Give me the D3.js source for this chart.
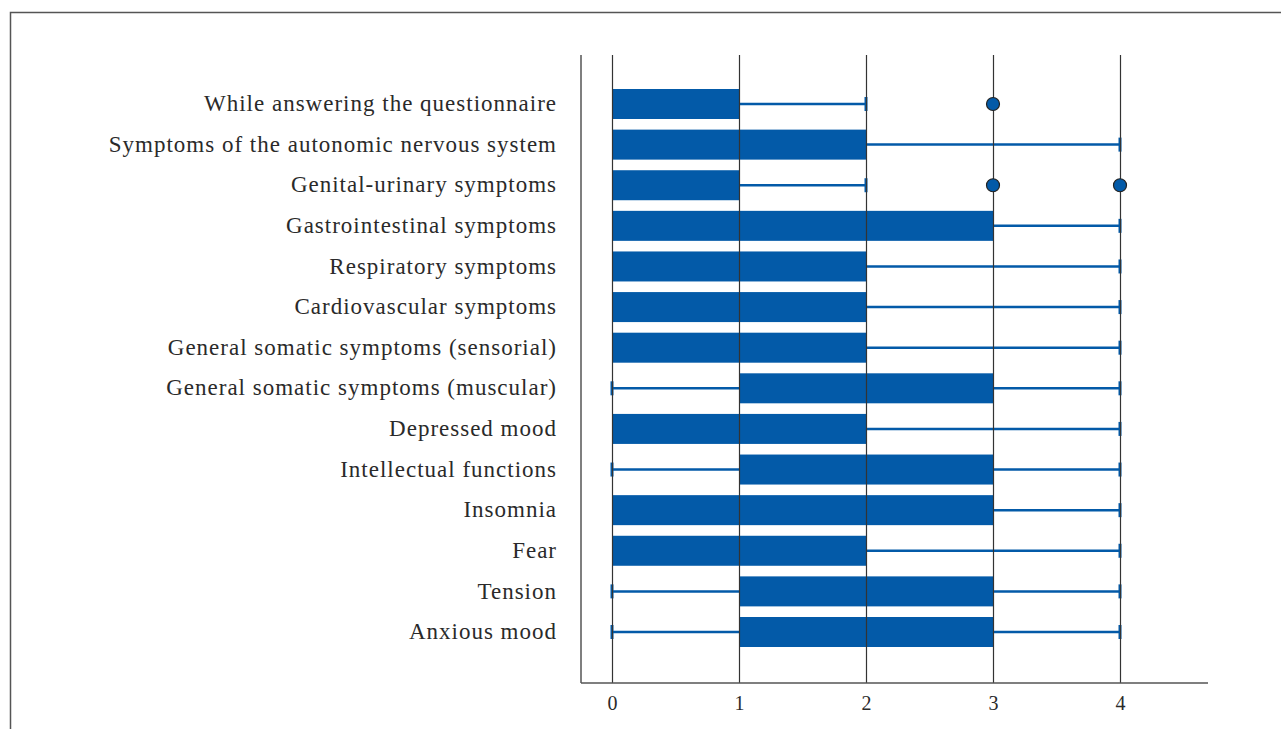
<!DOCTYPE html>
<html>
<head>
<meta charset="utf-8">
<script src="https://cdn.jsdelivr.net/npm/d3@7"></script>
<style>
  body { margin: 0; background: #fff; }
  text { font-family: "Liberation Serif", "DejaVu Serif", serif; fill: #2a2a2a; }
</style>
</head>
<body>
<div id="chart"></div>
<script>
// Items, top to bottom
const items = [
  "While answering the questionnaire",
  "Symptoms of the autonomic nervous system",
  "Genital-urinary symptoms",
  "Gastrointestinal symptoms",
  "Respiratory symptoms",
  "Cardiovascular symptoms",
  "General somatic symptoms (sensorial)",
  "General somatic symptoms (muscular)",
  "Depressed mood",
  "Intellectual functions",
  "Insomnia",
  "Fear",
  "Tension",
  "Anxious mood"
];
// box plot summaries per item
const minVals = [0, 0, 0, 0, 0, 0, 0, 0, 0, 0, 0, 0, 0, 0];
const q1Vals  = [0, 0, 0, 0, 0, 0, 0, 1, 0, 1, 0, 0, 1, 1];
const q3Vals  = [1, 2, 1, 3, 2, 2, 2, 3, 2, 3, 3, 2, 3, 3];
const maxVals = [2, 4, 2, 4, 4, 4, 4, 4, 4, 4, 4, 4, 4, 4];
// outliers [itemIndex, value]
const outliers = [[0, 3], [2, 3], [2, 4]];
const xTicks = [0, 1, 2, 3, 4];

const W = 1281, H = 729;
const blue = "#035aa8";
const barH = 30;

const data = items.map((name, i) => ({
  name, min: minVals[i], q1: q1Vals[i], q3: q3Vals[i], max: maxVals[i]
}));

const svg = d3.select("#chart").append("svg")
    .attr("width", W)
    .attr("height", H);

// outer frame (runs off right and bottom)
svg.append("rect")
    .attr("x", 10.5).attr("y", 12.5)
    .attr("width", W + 20).attr("height", H + 20)
    .attr("fill", "none")
    .attr("stroke", "#555")
    .attr("stroke-width", 1.5);

const x = d3.scaleLinear().domain([0, 4]).range([612, 1120]);
const y = d3.scalePoint().domain(items).range([104, 632]);

const plotTop = 55, plotBottom = 683, axisLeft = 581, axisRight = 1208;

// boxes
svg.append("g").selectAll("rect")
  .data(data.filter(d => d.q3 > d.q1))
  .join("rect")
    .attr("x", d => x(d.q1))
    .attr("y", d => y(d.name) - barH / 2)
    .attr("width", d => x(d.q3) - x(d.q1))
    .attr("height", barH)
    .attr("fill", blue);

// whiskers
const whiskers = [];
data.forEach(d => {
  if (d.min < d.q1) whiskers.push({ name: d.name, from: d.q1, to: d.min });
  if (d.max > d.q3) whiskers.push({ name: d.name, from: d.q3, to: d.max });
});
const wg = svg.append("g");
wg.selectAll("line.w")
  .data(whiskers)
  .join("line")
    .attr("class", "w")
    .attr("x1", d => x(d.from))
    .attr("x2", d => x(d.to))
    .attr("y1", d => y(d.name))
    .attr("y2", d => y(d.name))
    .attr("stroke", blue)
    .attr("stroke-width", 2.5);
wg.selectAll("line.cap")
  .data(whiskers)
  .join("line")
    .attr("class", "cap")
    .attr("x1", d => x(d.to))
    .attr("x2", d => x(d.to))
    .attr("y1", d => y(d.name) - 7)
    .attr("y2", d => y(d.name) + 7)
    .attr("stroke", blue)
    .attr("stroke-width", 3);

// gridlines on top of bars
const grid = svg.append("g")
    .attr("transform", `translate(0,${plotBottom})`)
    .call(d3.axisBottom(x).tickValues(xTicks).tickSize(-(plotBottom - plotTop)).tickFormat(""))
    .call(g => g.select(".domain").remove());
grid.selectAll(".tick line").attr("stroke", "#333").attr("stroke-width", 1.2);

// axis frame lines
svg.append("line")
    .attr("x1", axisLeft).attr("x2", axisLeft)
    .attr("y1", plotTop).attr("y2", plotBottom)
    .attr("stroke", "#555").attr("stroke-width", 1.5);
svg.append("line")
    .attr("x1", axisLeft).attr("x2", axisRight)
    .attr("y1", plotBottom).attr("y2", plotBottom)
    .attr("stroke", "#555").attr("stroke-width", 1.5);

// tick labels
const xAxisG = svg.append("g")
    .attr("transform", `translate(0,${plotBottom})`)
    .call(d3.axisBottom(x).tickValues(xTicks).tickFormat(d3.format("d")).tickSize(0).tickPadding(13))
    .call(g => g.select(".domain").remove());
xAxisG.selectAll("text")
    .style("font-family", '"Liberation Serif", serif')
    .style("font-size", "20px")
    .style("fill", "#2a2a2a");

// outliers
svg.append("g").selectAll("circle")
  .data(outliers)
  .join("circle")
    .attr("cx", d => x(d[1]))
    .attr("cy", d => y(items[d[0]]))
    .attr("r", 6.5)
    .attr("fill", blue)
    .attr("stroke", "#222")
    .attr("stroke-width", 1.2);

// item labels
svg.append("g").selectAll("text")
  .data(items)
  .join("text")
    .attr("x", 557)
    .attr("y", d => y(d))
    .attr("dy", "0.31em")
    .attr("text-anchor", "end")
    .style("font-size", "23px")
    .style("letter-spacing", "1px")
    .text(d => d);
</script>
</body>
</html>
